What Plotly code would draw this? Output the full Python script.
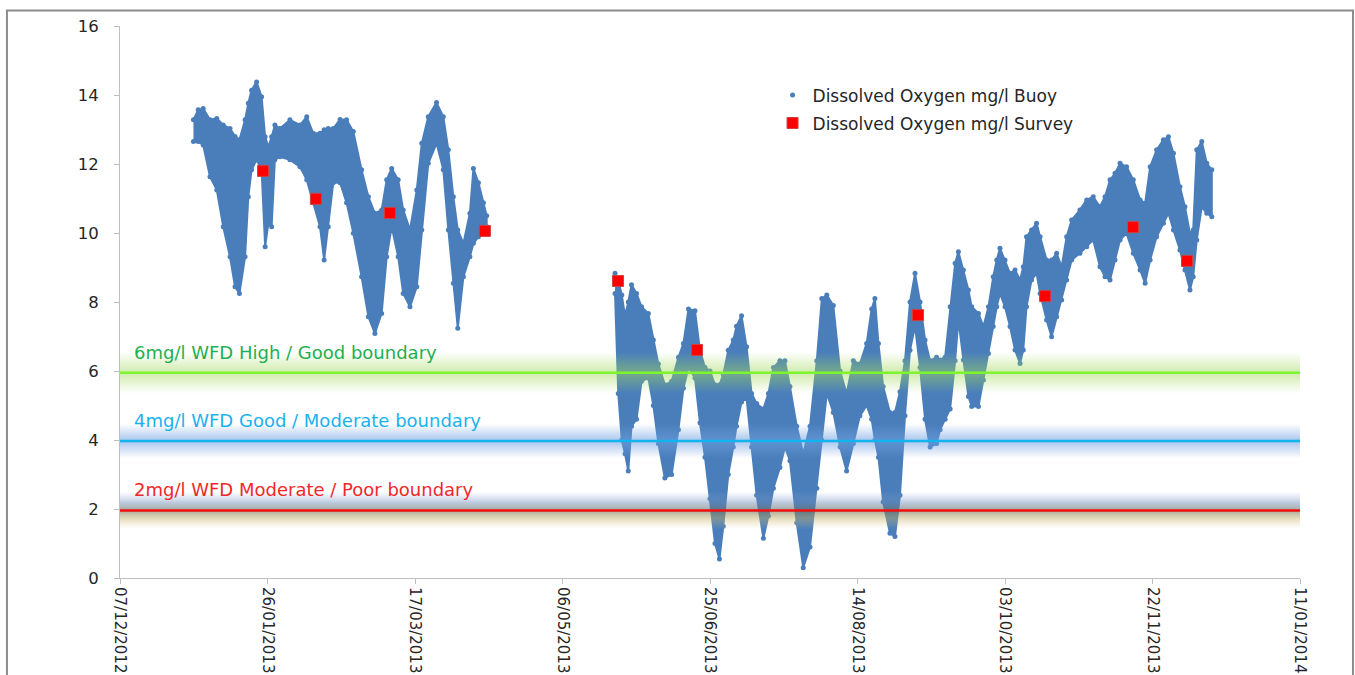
import pandas as pd
import plotly.graph_objects as go

# ---------------- data ----------------
start_date = "2012-12-07"
tick_labels = ["07/12/2012", "26/01/2013", "17/03/2013", "06/05/2013", "25/06/2013",
               "14/08/2013", "03/10/2013", "22/11/2013", "11/01/2014"]

# Buoy record, first deployment: days since 07/12/2012, upper / lower extent of the readings (mg/l)
seg1_day = [24.9, 26.5, 28.2, 30.5, 32.8, 35.0, 37.3, 39.0, 40.5, 42.4, 43.5, 44.6, 46.3, 48.0,
            49.2, 50.3, 51.4, 52.5, 54.2, 57.6, 61.0, 63.3, 65.5, 67.8, 69.2, 70.6, 72.3, 74.6,
            76.8, 79.1, 81.9, 84.2, 86.4, 88.7, 90.4, 92.1, 94.3, 96.0, 98.3, 100.6, 102.3, 104.5,
            107.3, 109.6, 111.3, 113.0, 114.5, 116.4, 118.6, 119.8, 121.5, 123.2, 124.3]
seg1_upper = [13.28, 13.57, 13.61, 13.28, 13.32, 13.13, 13.03, 12.8, 12.7, 13.28, 13.76, 14.14,
              14.38, 13.95, 12.79, 12.50, 12.79, 13.13, 13.03, 13.28, 13.13, 13.37, 12.89, 12.89,
              12.99, 13.03, 13.03, 13.29, 13.28, 12.94, 11.83, 11.05, 10.57, 10.67, 11.54, 11.87,
              11.54, 10.67, 10.09, 11.25, 12.60, 13.37, 13.78, 13.37, 12.41, 11.05, 10.09, 9.70,
              10.57, 11.87, 11.46, 10.88, 10.50]
seg1_lower = [12.65, 12.65, 12.55, 11.63, 11.25, 10.18, 9.31, 8.44, 8.25, 9.31, 11.05, 11.83,
              12.12, 11.83, 9.60, 10.28, 10.18, 12.12, 12.21, 12.12, 11.92, 11.54, 10.88, 10.18,
              9.22, 10.18, 11.46, 11.46, 10.88, 9.99, 8.73, 7.57, 7.09, 7.67, 9.31, 10.18,
              9.31, 8.25, 7.86, 8.44, 10.09, 12.02, 12.60, 11.83, 10.09, 8.54, 7.24, 8.73,
              9.31, 9.70, 9.89, 10.09, 10.18]

# Buoy record, second deployment
seg2_day = [167.8, 168.9, 170.1, 171.2, 172.3, 173.4, 175.1, 176.8, 179.1, 180.8, 182.5, 184.7,
            187.0, 189.3, 191.0, 192.7, 194.9, 196.6, 198.3, 200.0, 201.7, 203.2, 204.5, 206.2,
            207.9, 209.0, 210.7, 212.4, 214.1, 215.8, 218.1, 219.8, 221.5, 223.7, 225.4, 227.1,
            229.4, 231.6, 233.9, 236.2, 237.9, 239.6, 241.8, 244.1, 246.3, 248.6, 250.8, 253.1,
            254.8, 255.9, 257.1, 258.7, 261.0, 262.7, 264.4, 266.1, 267.8, 269.5, 271.2, 272.9,
            274.6, 276.8, 278.0, 279.7, 281.4, 283.1, 284.2, 285.9, 287.6, 288.7, 291.0, 292.7,
            294.4, 296.0, 297.2, 298.3, 300.0, 301.7, 303.4, 305.1, 306.2, 307.3, 309.0, 310.7,
            311.9, 314.1, 315.8, 317.5, 319.2, 320.9, 322.6, 325.4, 327.7, 329.9, 332.2, 333.9,
            335.6, 337.3, 339.0, 341.2, 343.5, 345.8, 347.5, 349.2, 351.4, 353.7, 355.4, 357.1,
            359.3, 361.0, 362.7, 363.8, 365.0, 366.7, 368.4, 370.1]
seg2_upper = [8.83, 8.64, 8.2, 7.6, 8.0, 8.5, 8.25, 7.86, 7.67, 6.9, 6.2, 5.6,
              5.7, 6.4, 6.8, 7.8, 7.75, 6.6, 6.1, 6.0, 5.6, 5.6, 5.9, 6.6,
              6.9, 7.3, 7.6, 6.7, 5.35, 5.06, 4.9, 5.35, 6.1, 6.3, 6.3, 5.55,
              4.4, 3.6, 4.4, 6.3, 8.1, 8.2, 7.9, 6.0, 5.35, 6.3, 6.2, 6.8,
              7.8, 8.1, 6.8, 5.55, 4.8, 4.8, 5.4, 6.3, 8.0, 8.83, 8.0, 6.9,
              6.3, 6.4, 6.32, 6.4, 7.86, 9.12, 9.46, 8.93, 8.35, 7.86, 7.67, 7.29,
              7.86, 8.73, 9.22, 9.56, 9.22, 8.83, 8.93, 8.64, 9.02, 9.89, 10.09, 10.28,
              9.89, 9.22, 9.22, 9.41, 9.02, 9.89, 10.38, 10.67, 10.96, 11.05, 10.76, 11.05,
              11.54, 11.73, 12.02, 11.92, 11.54, 10.96, 10.86, 11.92, 12.41, 12.70, 12.79, 12.31,
              11.34, 10.76, 9.99, 10.09, 12.41, 12.65, 12.02, 11.83]
seg2_lower = [8.25, 5.35, 4.0, 3.6, 3.1, 4.4, 4.6, 5.7, 5.8, 5.0, 3.9, 2.9,
              3.0, 4.3, 5.5, 6.1, 5.8, 4.5, 3.5, 2.3, 1.0, 0.55, 1.5, 3.0,
              3.8, 4.4, 5.1, 5.2, 3.8, 2.4, 1.15, 1.8, 2.6, 3.2, 3.8, 3.4,
              1.6, 0.3, 0.9, 2.6, 4.0, 5.35, 4.8, 3.8, 3.1, 3.9, 4.7, 5.0,
              4.6, 4.0, 3.5, 2.2, 1.3, 1.2, 2.4, 4.7, 6.6, 7.3, 6.1, 4.6,
              3.8, 3.9, 4.3, 4.6, 4.9, 6.3, 7.48, 6.32, 5.26, 4.97, 4.97, 5.74,
              6.51, 7.29, 7.86, 8.25, 7.86, 7.29, 6.61, 6.22, 6.61, 7.86, 8.64, 8.83,
              8.25, 7.48, 6.99, 7.57, 8.06, 8.64, 9.22, 9.41, 9.60, 9.80, 9.02, 8.73,
              8.64, 9.22, 9.80, 9.99, 9.41, 8.93, 8.54, 9.22, 9.89, 10.28, 10.57, 10.09,
              9.51, 8.93, 8.35, 8.73, 9.80, 10.76, 10.57, 10.47]

# Survey samples
survey_day = [48.5, 66.4, 91.5, 123.7, 168.8, 195.6, 270.5, 313.6, 343.4, 361.7]
survey_do = [11.80, 10.99, 10.58, 10.06, 8.61, 6.61, 7.62, 8.17, 10.17, 9.19]

# WFD boundaries
boundary_values = [5.95, 3.97, 1.96]
boundary_labels = ["6mg/l WFD High / Good boundary",
                   "4mg/l WFD Good / Moderate boundary",
                   "2mg/l WFD Moderate / Poor boundary"]

# ---------------- styling ----------------
FONT = "DejaVu Sans"
BUOY = "#4A7EBB"
line_colors = ["#7DF52E", "#12B4F0", "#F01010"]
label_colors = ["#1DB050", "#1AB2EE", "#F02828"]
glow_scales = [
    [[0, "rgba(160,215,90,0)"], [0.5, "rgba(160,215,90,0.5)"], [1, "rgba(160,215,90,0)"]],
    [[0, "rgba(110,160,225,0)"], [0.5, "rgba(110,160,225,0.6)"], [1, "rgba(110,160,225,0)"]],
    [[0, "rgba(225,205,140,0)"], [0.3, "rgba(190,170,95,0.45)"], [0.5, "rgba(110,110,90,0.6)"],
     [0.7, "rgba(105,135,180,0.45)"], [1, "rgba(140,170,215,0)"]],
]
glow_half = [0.6, 0.5, 0.55]

t0 = pd.Timestamp(start_date)


def to_dates(days):
    return [t0 + pd.Timedelta(days=d) for d in days]


tick_dates = list(pd.to_datetime(tick_labels, format="%d/%m/%Y"))
x_start, x_end = tick_dates[0], tick_dates[-1]

fig = go.Figure()

# Buoy readings: filled extent plus envelope dots
for i, (d, up, lo) in enumerate([(seg1_day, seg1_upper, seg1_lower),
                                  (seg2_day, seg2_upper, seg2_lower)]):
    xd = to_dates(d)
    fig.add_trace(go.Scatter(
        x=xd + xd[::-1], y=up + lo[::-1], mode="lines", fill="toself",
        fillcolor=BUOY, line=dict(color=BUOY, width=2), showlegend=False, hoverinfo="skip"))
    fig.add_trace(go.Scatter(
        x=xd + xd, y=up + lo, mode="markers",
        marker=dict(color=BUOY, size=5),
        name="Dissolved Oxygen mg/l Buoy", legendgroup="buoy", legendrank=1,
        showlegend=(i == 0)))

# Boundary glows and lines
for v, cs, h in zip(boundary_values, glow_scales, glow_half):
    fig.add_trace(go.Scatter(
        x=[x_start, x_end, x_end, x_start], y=[v - h, v - h, v + h, v + h],
        mode="lines", fill="toself", line=dict(width=0),
        fillgradient=dict(type="vertical", colorscale=cs, start=v - h, stop=v + h),
        showlegend=False, hoverinfo="skip"))
for v, c in zip(boundary_values, line_colors):
    fig.add_trace(go.Scatter(
        x=[x_start, x_end], y=[v, v], mode="lines",
        line=dict(color=c, width=2.5), showlegend=False, hoverinfo="skip"))

# Survey samples
fig.add_trace(go.Scatter(
    x=to_dates(survey_day), y=survey_do, mode="markers",
    marker=dict(symbol="square", color="#FF0000", size=11,
                line=dict(color="#D04040", width=1)),
    name="Dissolved Oxygen mg/l Survey", legendgroup="survey", legendrank=2))

# Boundary labels
for v, txt, c in zip(boundary_values, boundary_labels, label_colors):
    fig.add_annotation(x=0.0105, xref="paper", y=v + 0.6, yref="y", text=txt,
                       showarrow=False, xanchor="left", yanchor="middle",
                       font=dict(family=FONT, size=18, color=c))

# Outer frame
fig.add_shape(type="rect", xref="paper", yref="paper",
              x0=-0.0958, x1=1.0449, y0=-0.25, y1=1.028,
              line=dict(color="#8C8C8C", width=2), fillcolor="rgba(0,0,0,0)", layer="below")

fig.update_layout(
    width=1355, height=675,
    margin=dict(l=120, r=55, t=26, b=97, autoexpand=False),
    paper_bgcolor="white", plot_bgcolor="white",
    font=dict(family=FONT, color="#262626"),
    legend=dict(x=0.553, y=0.907, xanchor="left", yanchor="top",
                bgcolor="rgba(0,0,0,0)", font=dict(family=FONT, size=17, color="#262626"),
                traceorder="grouped", tracegroupgap=3),
    showlegend=True,
)
fig.update_xaxes(
    type="date", range=[x_start, x_end], tickvals=tick_dates, ticktext=tick_labels,
    tickangle=90, ticks="outside", ticklen=5, tickcolor="#BFBFBF", automargin=False,
    showline=True, linecolor="#BFBFBF", linewidth=1, showgrid=False, zeroline=False,
    tickfont=dict(family=FONT, size=15, color="#262626"))
fig.update_yaxes(
    range=[0, 16], dtick=2, tick0=0, ticks="outside", ticklen=5, tickcolor="#BFBFBF",
    showline=True, linecolor="#BFBFBF", linewidth=1, showgrid=False, zeroline=False,
    ticklabelstandoff=12, automargin=False,
    tickfont=dict(family=FONT, size=16.5, color="#262626"))

fig.write_html("out.html", config={"displayModeBar": False},
               post_script="document.body.style.margin='0';document.body.style.padding='0';")
